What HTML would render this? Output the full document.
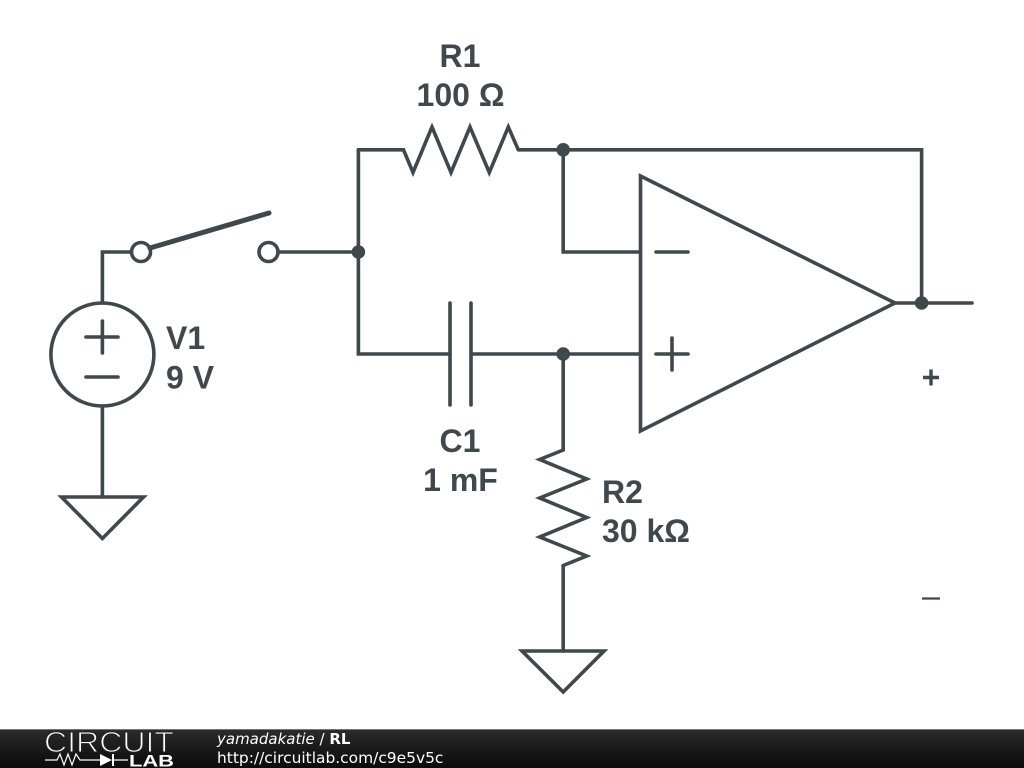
<!DOCTYPE html>
<html>
<head>
<meta charset="utf-8">
<style>
html,body{margin:0;padding:0;background:#fff;width:1024px;height:768px;overflow:hidden}
svg{display:block}
.l{font-family:"Liberation Sans",sans-serif;font-weight:bold;font-size:32px;fill:#3f484d}
.f{font-family:"DejaVu Sans",sans-serif;fill:#fff}
</style>
</head>
<body>
<svg width="1024" height="768" viewBox="0 0 1024 768" xmlns="http://www.w3.org/2000/svg">
<defs>
<linearGradient id="g" x1="0" y1="0" x2="0" y2="1">
<stop offset="0" stop-color="#2c2c2c"/>
<stop offset="0.5" stop-color="#1a1a1a"/>
<stop offset="1" stop-color="#0c0c0c"/>
</linearGradient>
</defs>
<g fill="none" stroke="#3f484d" stroke-width="3.6" stroke-linejoin="miter" stroke-miterlimit="10" stroke-linecap="round">
<!-- wires -->
<path d="M102.4 303V252H131"/>
<path d="M278 252H358.4"/>
<path d="M358.4 149.8V354H450"/>
<path d="M471 354H640"/>
<path d="M563.2 149.8V252H640"/>
<path d="M519 149.8H921.6V303"/>
<path d="M895 303H972"/>
<path d="M563.2 354V450"/>
<path d="M563.2 566V651"/>
<path d="M102.4 406V497"/>
<!-- R1 -->
<path d="M358.4 149.8H403.5L413 172.500L432 127L451 172.500L470 127L489.300 172.500L508.300 127L518.300 149.8"/>
<!-- R2 -->
<path d="M563.2 450L539.700 459.500L586.700 479L539.700 498L586.700 517.500L539.700 537L586.700 556L563.2 565.500"/>
<!-- C1 -->
<path d="M450 303V405M471 303V405"/>
<!-- Source -->
<circle cx="102.4" cy="354.5" r="51.5"/>
<path d="M86 337H118M102.4 321V353M86 377H118"/>
<!-- switch -->
<circle cx="141" cy="252" r="9.5"/>
<circle cx="268.5" cy="252" r="9.5"/>
<path d="M150 248L269 213" stroke-width="5"/>
<!-- grounds -->
<path d="M61.5 497H143.500L102.400 538.500Z"/>
<path d="M522 651H604L563.200 692Z"/>
<!-- op amp -->
<path d="M640.500 176L895 303L640.500 431Z"/>
<path d="M656 252H688M656 354H688M672 338V370"/>
</g>
<g fill="#3f484d">
<circle cx="358.400" cy="252" r="6.800"/>
<circle cx="563.200" cy="149.800" r="6.800"/>
<circle cx="563.200" cy="354" r="6.800"/>
<circle cx="921.600" cy="303" r="6.800"/>
</g>
<g class="l">
<text class="l" x="460" y="67" text-anchor="middle">R1</text>
<text class="l" x="460.500" y="106" text-anchor="middle">100 Ω</text>
<text class="l" x="166" y="349">V1</text>
<text class="l" x="166" y="388.500">9 V</text>
<text class="l" x="460" y="452" text-anchor="middle">C1</text>
<text class="l" x="460.500" y="491" text-anchor="middle">1 mF</text>
<text class="l" x="602" y="503">R2</text>
<text class="l" x="602" y="542">30 kΩ</text>
</g>
<path d="M923 377.500H939M931 369.500V385.500" fill="none" stroke="#3f484d" stroke-width="3.400"/>
<path d="M922 598.500H940" fill="none" stroke="#3f484d" stroke-width="2.200"/>
<!-- footer -->
<rect x="0" y="729" width="1024" height="39" fill="url(#g)"/>
<rect x="0" y="729" width="1024" height="1" fill="#777"/>
<text x="44" y="752" font-family="'Liberation Sans',sans-serif" font-size="29" fill="#fff" stroke="#222" stroke-width="1.100" textLength="130" lengthAdjust="spacingAndGlyphs">CIRCUIT</text>
<path d="M45 760H57L60 754L64 765L68 754L72 765L76 754L80 760H100M113 760H128" fill="none" stroke="#fff" stroke-width="1.200"/>
<path d="M100 754L112 760L100 766Z" fill="#fff"/>
<path d="M113 754V766" stroke="#fff" stroke-width="2"/>
<text x="129" y="766.500" font-family="'Liberation Sans',sans-serif" font-weight="bold" font-size="17" fill="#fff" textLength="45" lengthAdjust="spacingAndGlyphs">LAB</text>
<text class="f" x="217" y="744" font-size="15"><tspan font-style="italic">yamadakatie</tspan> / <tspan font-weight="bold">RL</tspan></text>
<text class="f" x="217" y="763" font-size="15.45">http://circuitlab.com/c9e5v5c</text>
</svg>
</body>
</html>
